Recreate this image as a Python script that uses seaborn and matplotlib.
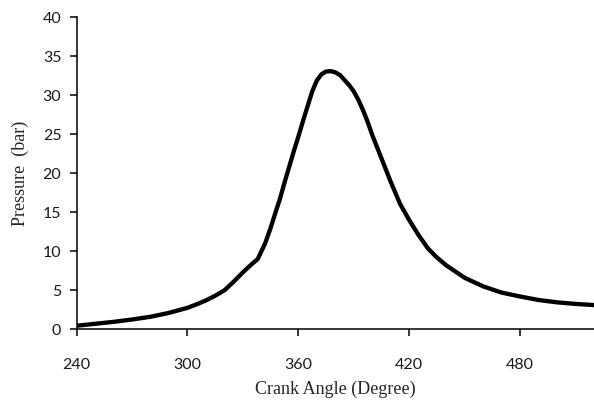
import matplotlib
matplotlib.use("Agg")
import matplotlib.pyplot as plt
import seaborn as sns
import pandas as pd

crank_angle = [240, 250, 260, 270, 280, 290, 300, 305, 310, 315, 320, 325, 330, 335, 338,
               342, 345, 347, 350, 352.5, 355, 357.5, 360, 362.5, 365, 367.5, 370, 372.5,
               375, 377.5, 380, 382.5, 385, 387.5, 390, 392.5, 395, 397.5, 400, 405, 410,
               415, 420, 425, 430, 435, 440, 450, 460, 470, 480, 490, 500, 510, 520]
pressure = [0.45, 0.7, 0.95, 1.25, 1.6, 2.1, 2.75, 3.2, 3.7, 4.3, 5.0, 6.1, 7.3, 8.4, 9.0,
            11.0, 13.0, 14.5, 16.7, 18.8, 20.8, 22.8, 24.7, 26.7, 28.6, 30.5, 31.9, 32.7,
            33.05, 33.1, 32.95, 32.6, 31.95, 31.3, 30.5, 29.4, 28.1, 26.6, 24.9, 21.9, 18.9,
            16.1, 14.0, 12.1, 10.4, 9.2, 8.2, 6.6, 5.5, 4.7, 4.2, 3.75, 3.45, 3.25, 3.1]
x_ticks = [240, 300, 360, 420, 480]
y_ticks = [0, 5, 10, 15, 20, 25, 30, 35, 40]

sns.set_style("white")
df = pd.DataFrame({"angle": crank_angle, "pressure": pressure})

fig = plt.figure(figsize=(5.94, 4.03), dpi=100)
ax = fig.add_axes([0.129, 0.183, 0.871, 0.774])
sns.lineplot(data=df, x="angle", y="pressure", color="black", linewidth=3.1, ax=ax,
             solid_joinstyle="round", solid_capstyle="round")

ax.set_xlim(240, 520)
ax.set_ylim(0, 40)
ax.set_xticks(x_ticks)
ax.set_yticks(y_ticks)
for s in ["top", "right"]:
    ax.spines[s].set_visible(False)
for s in ["left", "bottom"]:
    ax.spines[s].set_color("black")
    ax.spines[s].set_linewidth(1.1)
    ax.spines[s].set_clip_on(False)

ax.tick_params(axis="x", direction="out", length=5, width=1.1, color="black", pad=16,
               labelsize=11.5, labelcolor="#1a1a1a", bottom=True)
ax.tick_params(axis="y", direction="out", length=5, width=1.1, color="black", pad=6,
               labelsize=11.5, labelcolor="#1a1a1a", left=True)
for lab in ax.get_xticklabels() + ax.get_yticklabels():
    lab.set_family("Lato")

ax.set_xlabel("Crank Angle (Degree)", family="Liberation Serif", fontsize=13, labelpad=6)
ax.set_ylabel("Pressure  (bar)", family="Liberation Serif", fontsize=13, labelpad=10)

fig.savefig("out.png", dpi=100)
